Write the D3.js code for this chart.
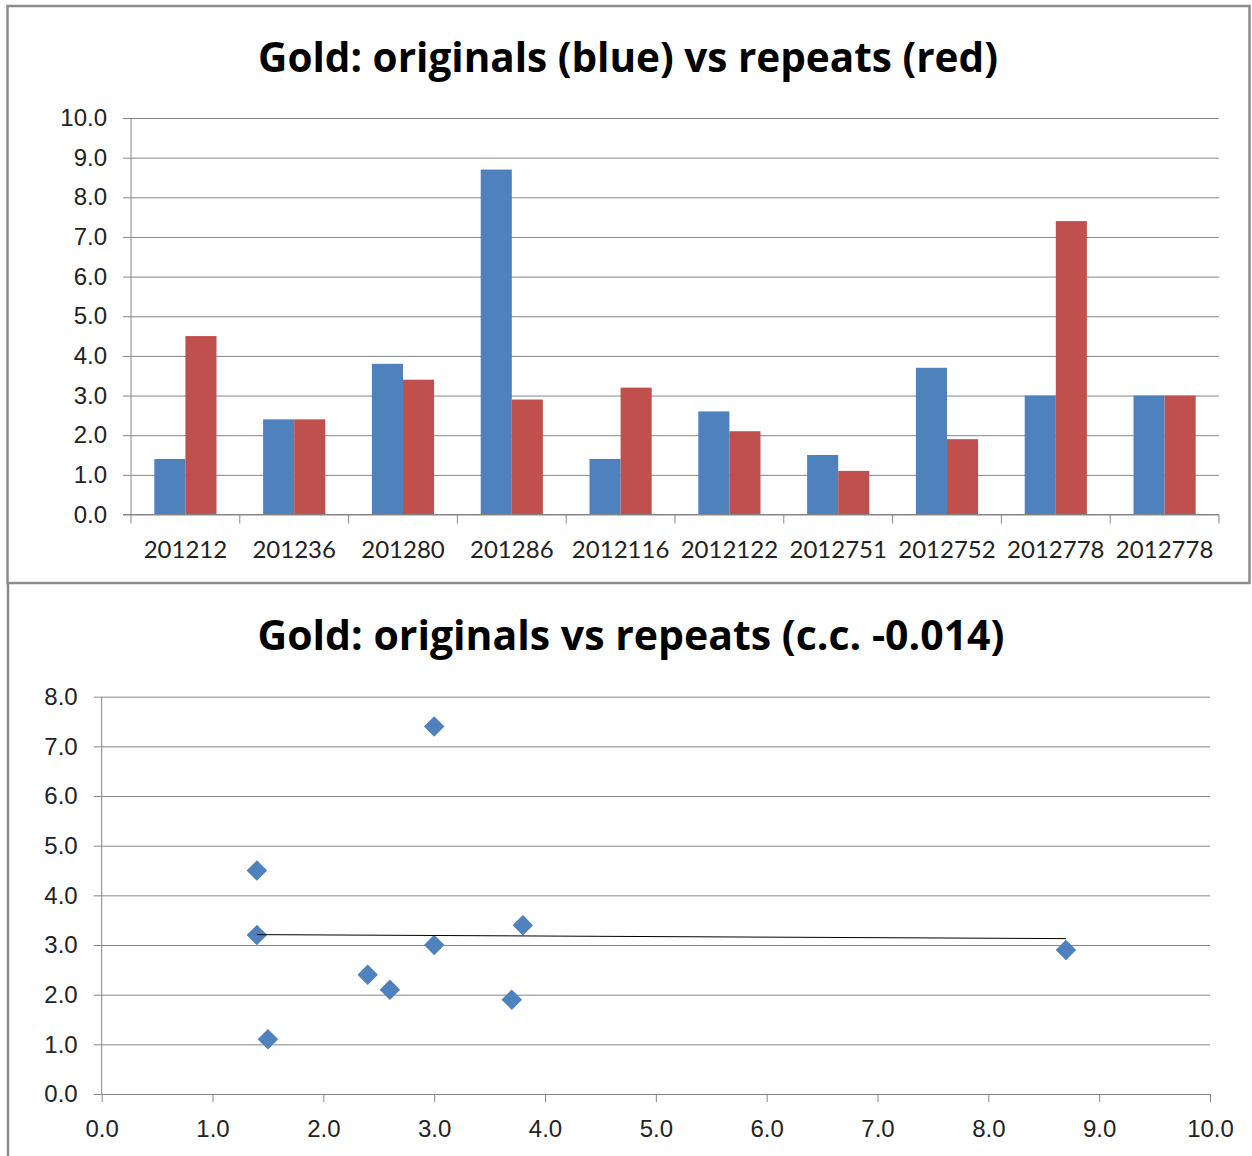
<!DOCTYPE html>
<meta charset="utf-8">
<style>
body { margin: 0; background: #fff; }
svg { font-family: Lato, "Open Sans", sans-serif; display: block; }
.grid line { stroke: #868686; stroke-width: 1; }
.tick text { fill: #222; }
.title { font-family: "Open Sans", Lato, sans-serif; font-weight: bold; font-size: 40.5px; }
</style>
<svg width="1252" height="1156"></svg>
<script src="https://d3js.org/d3.v7.min.js"></script>
<script>

var categories = ["201212", "201236", "201280", "201286", "2012116", "2012122", "2012751", "2012752", "2012778", "2012778"];
var originals = [1.4, 2.4, 3.8, 8.7, 1.4, 2.6, 1.5, 3.7, 3.0, 3.0];
var repeats   = [4.5, 2.4, 3.4, 2.9, 3.2, 2.1, 1.1, 1.9, 7.4, 3.0];
var barTicks = d3.range(0, 10.01, 1);
var scatterYTicks = d3.range(0, 8.01, 1);
var scatterXTicks = d3.range(0, 10.01, 1);
var titleTop = "Gold: originals (blue) vs repeats (red)";
var titleBottom = "Gold: originals vs repeats (c.c. -0.014)";

var blue = "#4f81bd", red = "#c0504d", axisColor = "#868686";
var fmt = d3.format(".1f");
var tickFont = "24px";

var svg = d3.select("svg");

// panel frames
svg.append("rect")
    .attr("x", 7.5).attr("y", 6).attr("width", 1242).attr("height", 577)
    .attr("fill", "none").attr("stroke", "#8c8c8c").attr("stroke-width", 2.5);
svg.append("line")
    .attr("x1", 8).attr("x2", 8).attr("y1", 584).attr("y2", 1156)
    .attr("stroke", "#8c8c8c").attr("stroke-width", 2.5);

// ---- top: grouped bars ----
var tp = { left: 131, right: 1219, top: 118, bottom: 514.5 };

var x0 = d3.scaleBand().domain(d3.range(categories.length))
    .range([tp.left, tp.right]).paddingInner(0).paddingOuter(0);
var y = d3.scaleLinear().domain([0, 10]).range([tp.bottom, tp.top]);
var groupW = x0.bandwidth();
var barW = groupW / 3.5;

svg.append("text").attr("class", "title")
    .attr("x", 628).attr("y", 72)
    .attr("text-anchor", "middle")
    .text(titleTop);

var gy = svg.append("g").attr("class", "grid")
    .attr("transform", "translate(" + tp.left + ",0)")
    .call(d3.axisLeft(y).tickValues(barTicks).tickFormat(fmt)
      .tickSizeInner(-(tp.right - tp.left)).tickSizeOuter(0).tickPadding(24));
gy.select(".domain").remove();
gy.selectAll(".tick text").style("font-size", tickFont);
gy.selectAll(".tick").append("line")
    .attr("x1", -8).attr("x2", 0).attr("stroke", axisColor);
svg.append("line")
    .attr("x1", tp.left).attr("x2", tp.left)
    .attr("y1", tp.top).attr("y2", tp.bottom).attr("stroke", axisColor);

var groups = svg.selectAll("g.cat")
    .data(categories)
    .enter().append("g").attr("class", "cat")
    .attr("transform", function(d, i) { return "translate(" + x0(i) + ",0)"; });

groups.append("rect")
    .attr("x", groupW / 2 - barW)
    .attr("y", function(d, i) { return y(originals[i]); })
    .attr("width", barW)
    .attr("height", function(d, i) { return y(0) - y(originals[i]); })
    .attr("fill", blue);

groups.append("rect")
    .attr("x", groupW / 2)
    .attr("y", function(d, i) { return y(repeats[i]); })
    .attr("width", barW)
    .attr("height", function(d, i) { return y(0) - y(repeats[i]); })
    .attr("fill", red);

groups.append("text")
    .attr("x", groupW / 2).attr("y", 558)
    .attr("text-anchor", "middle")
    .style("font-size", tickFont).attr("fill", "#222")
    .text(function(d) { return d; });

// x axis line + boundary ticks
svg.append("line")
    .attr("x1", tp.left - 8).attr("x2", tp.right)
    .attr("y1", tp.bottom).attr("y2", tp.bottom).attr("stroke", axisColor);
svg.selectAll("line.bt")
    .data(d3.range(categories.length + 1))
    .enter().append("line").attr("class", "bt")
    .attr("x1", function(i) { return tp.left + i * groupW; })
    .attr("x2", function(i) { return tp.left + i * groupW; })
    .attr("y1", tp.bottom).attr("y2", tp.bottom + 9)
    .attr("stroke", axisColor);

// ---- bottom: scatter ----
var bot = { left: 101.7, right: 1210, top: 696.7, bottom: 1094 };
var sx = d3.scaleLinear().domain([0, 10]).range([bot.left, bot.right]);
var sy = d3.scaleLinear().domain([0, 8]).range([bot.bottom, bot.top]);

svg.append("text").attr("class", "title")
    .attr("x", 631).attr("y", 650)
    .attr("text-anchor", "middle")
    .style("font-size", "41px")
    .text(titleBottom);

var sgy = svg.append("g").attr("class", "grid")
    .attr("transform", "translate(" + bot.left + ",0)")
    .call(d3.axisLeft(sy).tickValues(scatterYTicks).tickFormat(fmt)
      .tickSizeInner(-(bot.right - bot.left)).tickSizeOuter(0).tickPadding(24));
sgy.select(".domain").remove();
sgy.selectAll(".tick text").style("font-size", tickFont);
sgy.selectAll(".tick").append("line")
    .attr("x1", -8).attr("x2", 0).attr("stroke", axisColor);

var sgx = svg.append("g")
    .attr("transform", "translate(0," + bot.bottom + ")")
    .call(d3.axisBottom(sx).tickValues(scatterXTicks).tickFormat(fmt)
      .tickSizeInner(8).tickSizeOuter(0).tickPadding(18));
sgx.select(".domain").attr("stroke", axisColor);
sgx.selectAll(".tick line").attr("stroke", axisColor);
sgx.selectAll(".tick text").style("font-size", tickFont);
svg.append("line")
    .attr("x1", bot.left).attr("x2", bot.left)
    .attr("y1", bot.top).attr("y2", bot.bottom).attr("stroke", axisColor);

var pts = originals.map(function(o, i) { return [o, repeats[i]]; });

svg.selectAll("path.pt")
    .data(pts)
    .enter().append("path").attr("class", "pt")
    .attr("d", d3.symbol(d3.symbolSquare, 210))
    .attr("transform", function(d) { return "translate(" + sx(d[0]) + "," + sy(d[1]) + ") rotate(45)"; })
    .attr("fill", blue);

// linear trend line
var mx = d3.mean(originals), my = d3.mean(repeats);
var sxy = d3.sum(pts, function(d) { return (d[0] - mx) * (d[1] - my); });
var sxx = d3.sum(pts, function(d) { return (d[0] - mx) * (d[0] - mx); });
var slope = sxy / sxx, icpt = my - slope * mx;
var xr = d3.extent(originals);
svg.append("line")
    .attr("x1", sx(xr[0])).attr("y1", sy(icpt + slope * xr[0]))
    .attr("x2", sx(xr[1])).attr("y2", sy(icpt + slope * xr[1]))
    .attr("stroke", "#000").attr("stroke-width", 1);

</script>
